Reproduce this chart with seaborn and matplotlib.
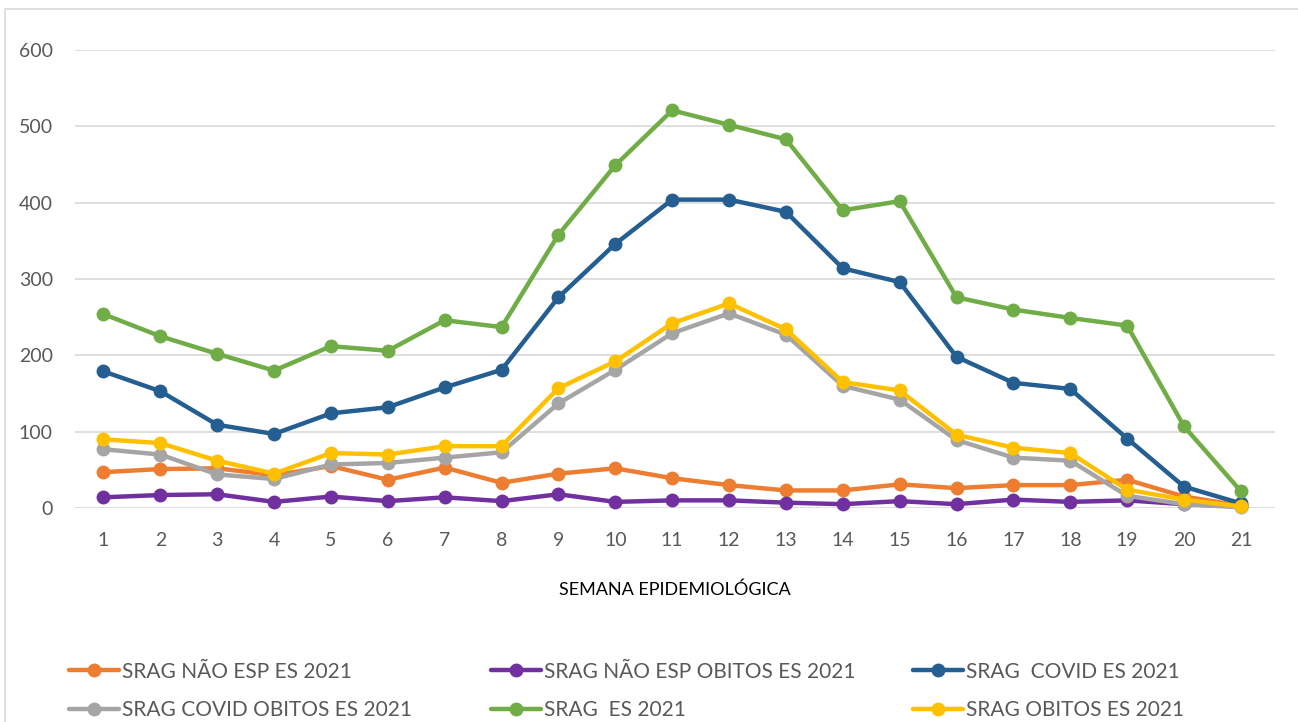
import matplotlib
matplotlib.use("Agg")
import matplotlib.pyplot as plt
import seaborn as sns
import numpy as np
from matplotlib.patches import Rectangle

weeks = list(range(1, 22))

srag_nao_esp = [47, 51, 52, 43, 55, 37, 53, 33, 45, 52, 39, 30, 23, 23, 31, 26, 30, 30, 37, 15, 3]
srag_nao_esp_obitos = [14, 17, 18, 8, 15, 9, 14, 9, 18, 8, 10, 10, 7, 5, 9, 5, 11, 8, 10, 5, 2]
srag_covid = [179, 153, 109, 97, 124, 132, 158, 181, 276, 346, 404, 404, 388, 314, 296, 198, 164, 156, 91, 28, 6]
srag_covid_obitos = [77, 70, 44, 38, 57, 59, 66, 73, 137, 181, 229, 255, 227, 160, 142, 89, 66, 62, 16, 5, 1]
srag_total = [254, 225, 202, 180, 212, 206, 246, 237, 358, 449, 521, 502, 483, 390, 402, 276, 260, 249, 239, 107, 22]
srag_obitos = [90, 85, 62, 45, 72, 70, 81, 81, 157, 192, 242, 268, 234, 165, 154, 96, 79, 72, 24, 11, 2]

labels = [
    "SRAG NÃO ESP ES 2021",
    "SRAG NÃO ESP OBITOS ES 2021",
    "SRAG  COVID ES 2021",
    "SRAG COVID OBITOS ES 2021",
    "SRAG  ES 2021",
    "SRAG OBITOS ES 2021",
]
series = [srag_nao_esp, srag_nao_esp_obitos, srag_covid, srag_covid_obitos, srag_total, srag_obitos]
colors = ["#ED7D31", "#7030A0", "#255E91", "#A5A5A5", "#70AD47", "#FFC000"]

sns.set_style("white")
plt.rcParams["font.family"] = ["Lato", "DejaVu Sans"]

fig = plt.figure(figsize=(12.98, 7.22), dpi=100)
ax = fig.add_axes([0.0578, 0.2964, 0.9245, 0.6343])

handles = []
for lab, vals, col in zip(labels, series, colors):
    sns.lineplot(x=weeks, y=vals, ax=ax, color=col, linewidth=3.2, marker="o",
                 markersize=10, markeredgewidth=0, clip_on=False, label=lab, legend=False)
    handles.append(ax.lines[-1])

ax.set_xlim(0.5, 21.6)
ax.set_ylim(0, 600)
ax.set_yticks(range(0, 601, 100))
ax.set_xticks(weeks)
ax.yaxis.grid(True, color="#D9D9D9", linewidth=1.2)
ax.set_axisbelow(True)
for s in ax.spines.values():
    s.set_visible(False)
ax.tick_params(axis="both", length=0, labelsize=14, colors="#595959")
ax.tick_params(axis="y", pad=16)
ax.tick_params(axis="x", pad=17)
ax.set_xlabel("SEMANA EPIDEMIOLÓGICA", fontsize=13, color="black", labelpad=24)
ax.set_ylabel("")

# legend: three columns, two rows
col_x = [0.047, 0.372, 0.697]
for i, x in enumerate(col_x):
    hs = [handles[i], handles[i + 3]]
    fig.legend(hs, [labels[i], labels[i + 3]], loc="upper left", bbox_to_anchor=(x, 0.095),
               frameon=False, fontsize=15, labelcolor="#595959", handlelength=2.4,
               handletextpad=0.15, labelspacing=0.9, borderaxespad=0)

fig.patches.append(Rectangle((0.004, -0.01), 1.0, 0.998, transform=fig.transFigure,
                             fill=False, edgecolor="#D9D9D9", linewidth=1.2))

fig.savefig("out.png", dpi=100)
